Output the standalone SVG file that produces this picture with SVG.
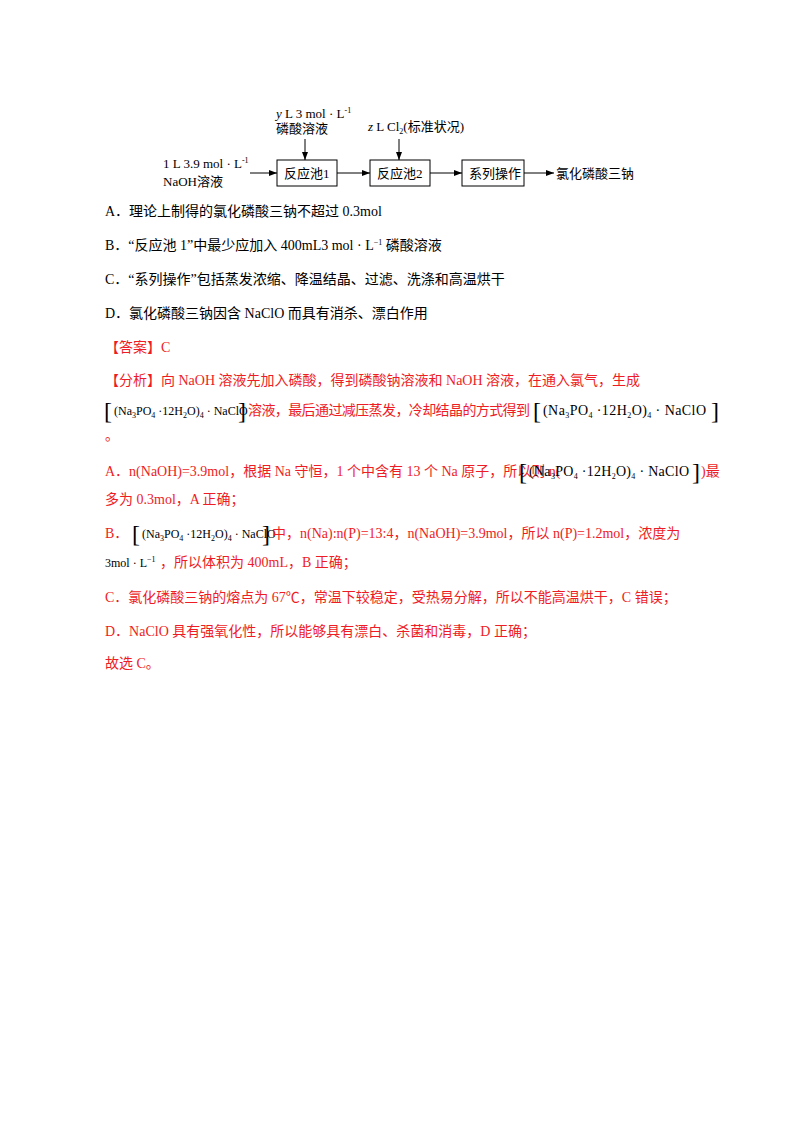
<svg xmlns="http://www.w3.org/2000/svg" width="800" height="1132" viewBox="0 0 800 1132">
<defs>
<marker id="ah" markerWidth="8" markerHeight="6" refX="8" refY="3" orient="auto" markerUnits="userSpaceOnUse"><path d="M0,0 L8,3 L0,6 Z" fill="#000"/></marker>
</defs>
<style>
text{font-family:"Liberation Serif","Noto Sans CJK SC",serif;font-size:14px;fill:#000}
.d{font-size:13px}
.r{fill:#ee1c25}
.box{fill:#fff;stroke:#000;stroke-width:1}
.ln{stroke:#000;stroke-width:1;fill:none}
.f{font-size:14px}
.fs{font-size:12px}
.bk{font-size:24px}
.s{font-size:8px}
</style>
<rect width="800" height="1132" fill="#fff"/>
<g id="labels">
<text class="d" x="276" y="118"><tspan font-style="italic">y</tspan> L 3 mol · L<tspan class="s" dy="-5">-1</tspan></text>
<text class="d" x="276" y="133">磷酸溶液</text>
<text class="d" x="368" y="131"><tspan font-style="italic">z</tspan> L Cl<tspan class="s" dy="3">2</tspan><tspan dy="-3">(标准状况)</tspan></text>
<text class="d" x="163" y="168">1 L 3.9 mol · L<tspan class="s" dy="-5">-1</tspan></text>
<text class="d" x="163" y="186">NaOH溶液</text>
</g>
<g id="box1"><rect class="box" x="277" y="160" width="60" height="26"/><text class="d" x="284" y="178">反应池1</text></g>
<g id="box2"><rect class="box" x="370" y="160" width="60" height="26"/><text class="d" x="377" y="178">反应池2</text></g>
<g id="box3"><rect class="box" x="462" y="160" width="62" height="26"/><text class="d" x="469" y="178">系列操作</text></g>
<g id="out"><text class="d" x="556" y="178">氯化磷酸三钠</text></g>
<g id="connectors">
<line class="ln" x1="250" y1="173" x2="277" y2="173" marker-end="url(#ah)"/>
<line class="ln" x1="337" y1="173" x2="370" y2="173" marker-end="url(#ah)"/>
<line class="ln" x1="430" y1="173" x2="462" y2="173" marker-end="url(#ah)"/>
<line class="ln" x1="524" y1="173" x2="554" y2="173" marker-end="url(#ah)"/>
<line class="ln" x1="305" y1="139" x2="305" y2="160" marker-end="url(#ah)"/>
<line class="ln" x1="399" y1="139" x2="399" y2="160" marker-end="url(#ah)"/>
</g>
<text x="105" y="216">A．理论上制得的氯化磷酸三钠不超过 0.3mol</text>
<text x="105" y="250">B．“反应池 1”中最少应加入 400mL3 mol · L<tspan class="s" dy="-5">−1</tspan><tspan dy="5"> 磷酸溶液</tspan></text>
<text x="105" y="284">C．“系列操作”包括蒸发浓缩、降温结晶、过滤、洗涤和高温烘干</text>
<text x="105" y="318">D．氯化磷酸三钠因含 NaClO 而具有消杀、漂白作用</text>
<text class="r" x="105" y="352">【答案】C</text>
<text class="r" x="105" y="385">【分析】向 NaOH 溶液先加入磷酸，得到磷酸钠溶液和 NaOH 溶液，在通入氯气，生成</text>

<text class="bk" x="104" y="419">[</text><text class="fs" x="114" y="415">(Na<tspan class="s" dy="3">3</tspan><tspan dy="-3">PO</tspan><tspan class="s" dy="3">4</tspan><tspan dy="-3"> ·12H</tspan><tspan class="s" dy="3">2</tspan><tspan dy="-3">O)</tspan><tspan class="s" dy="3">4</tspan><tspan dy="-3"> · NaClO</tspan></text><text class="bk" x="238" y="419">]</text>
<text class="r" x="248" y="415" textLength="282">溶液，最后通过减压蒸发，冷却结晶的方式得到</text>
<text class="bk" x="533" y="419">[</text><text class="f" x="543" y="415" textLength="163">(Na<tspan class="s" dy="3">3</tspan><tspan dy="-3">PO</tspan><tspan class="s" dy="3">4</tspan><tspan dy="-3"> ·12H</tspan><tspan class="s" dy="3">2</tspan><tspan dy="-3">O)</tspan><tspan class="s" dy="3">4</tspan><tspan dy="-3"> · NaClO</tspan></text><text class="bk" x="711" y="419">]</text>
<text class="r" x="105" y="440">。</text>

<text class="r" x="105" y="476">A．n(NaOH)=3.9mol，根据 Na 守恒，1 个中含有 13 个 Na 原子，所以则 n(</text>
<text class="bk" x="519" y="480">[</text><text class="f" x="529" y="476" textLength="160">(Na<tspan class="s" dy="3">3</tspan><tspan dy="-3">PO</tspan><tspan class="s" dy="3">4</tspan><tspan dy="-3"> ·12H</tspan><tspan class="s" dy="3">2</tspan><tspan dy="-3">O)</tspan><tspan class="s" dy="3">4</tspan><tspan dy="-3"> · NaClO</tspan></text><text class="bk" x="692" y="480">]</text>
<text class="r" x="701" y="476">)最</text>
<text class="r" x="105" y="504">多为 0.3mol，A 正确；</text>

<text class="r" x="105" y="538">B．</text>
<text class="bk" x="132" y="542">[</text><text class="fs" x="142" y="538">(Na<tspan class="s" dy="3">3</tspan><tspan dy="-3">PO</tspan><tspan class="s" dy="3">4</tspan><tspan dy="-3"> ·12H</tspan><tspan class="s" dy="3">2</tspan><tspan dy="-3">O)</tspan><tspan class="s" dy="3">4</tspan><tspan dy="-3"> · NaClO</tspan></text><text class="bk" x="262" y="542">]</text>
<text class="r" x="272" y="538">中，n(Na):n(P)=13:4，n(NaOH)=3.9mol，所以 n(P)=1.2mol，浓度为</text>
<text x="105" y="567" style="font-size:12px">3mol · L<tspan class="s" dy="-5">−1</tspan></text>
<text class="r" x="160" y="567">，所以体积为 400mL，B 正确；</text>
<text class="r" x="105" y="602">C．氯化磷酸三钠的熔点为 67℃，常温下较稳定，受热易分解，所以不能高温烘干，C 错误；</text>
<text class="r" x="105" y="636">D．NaClO 具有强氧化性，所以能够具有漂白、杀菌和消毒，D 正确；</text>
<text class="r" x="105" y="668">故选 C。</text>
</svg>
